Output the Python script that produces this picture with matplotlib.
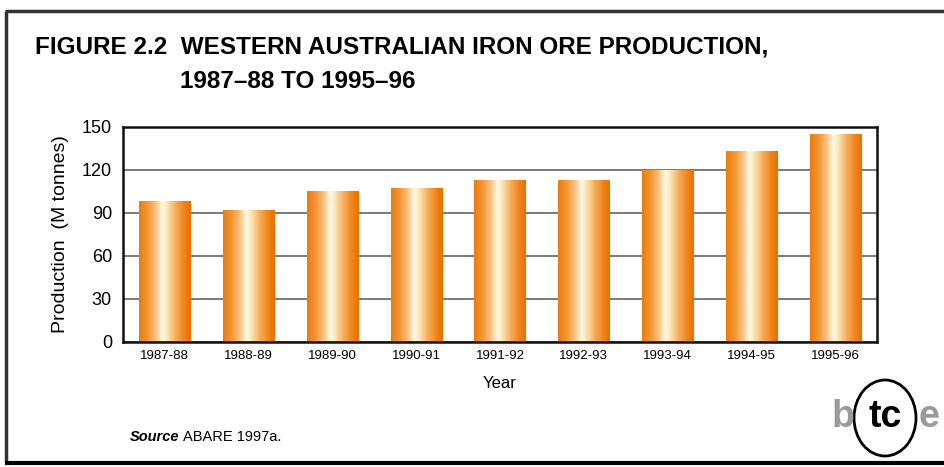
import numpy as np
import matplotlib
matplotlib.use("Agg")
import matplotlib.pyplot as plt
from matplotlib.colors import LinearSegmentedColormap
from matplotlib.patches import Ellipse
from matplotlib import font_manager

years = ["1987-88", "1988-89", "1989-90", "1990-91", "1991-92",
         "1992-93", "1993-94", "1994-95", "1995-96"]
production = [98, 92, 105, 107, 113, 113, 120, 133, 145]
y_ticks = [0, 30, 60, 90, 120, 150]

installed = {f.name for f in font_manager.fontManager.ttflist}
narrow = "Liberation Sans Narrow" if "Liberation Sans Narrow" in installed else "Liberation Sans"
plt.rcParams["font.family"] = [narrow, "DejaVu Sans"]

fig = plt.figure(figsize=(9.45, 4.67), dpi=100)
fig.patch.set_facecolor("white")

# outer frame of the figure panel
frame_kw = dict(transform=fig.transFigure, color="#333333", solid_capstyle="butt")
fig.add_artist(plt.Line2D([5 / 945, 1.0], [1 - 11 / 467] * 2, lw=2.5, **frame_kw))
fig.add_artist(plt.Line2D([6 / 945] * 2, [1 - 11 / 467, 1 - 462 / 467], lw=2.5, **frame_kw))
fig.add_artist(plt.Line2D([5 / 945, 1.0], [1 - 463 / 467] * 2, lw=3.0,
                          transform=fig.transFigure, color="black", solid_capstyle="butt"))

ax = fig.add_axes([123 / 945, 1 - 341.5 / 467, 754 / 945, 214.5 / 467])
x = np.arange(len(years))
bars = ax.bar(x, production, width=0.61, color="#F08A1E", zorder=2, linewidth=0)

# cylindrical orange shading across each bar
shade = LinearSegmentedColormap.from_list(
    "tube", [(0.0, "#EE7A0A"), (0.18, "#F39A3A"), (0.33, "#F9C486"),
             (0.45, "#FFFBEA"), (0.55, "#FBE3B0"), (0.72, "#F6AA55"),
             (0.88, "#EF8318"), (1.0, "#E87000")])
grad = np.linspace(0, 1, 256).reshape(1, -1)
for b in bars:
    x0, w, h = b.get_x(), b.get_width(), b.get_height()
    im = ax.imshow(grad, cmap=shade, aspect="auto", extent=(x0, x0 + w, 0, h),
                   zorder=3, interpolation="bilinear")
    im.set_clip_path(b)

ax.set_xlim(-0.5, len(years) - 0.5)
ax.set_ylim(0, 150)
ax.set_yticks(y_ticks)
ax.set_yticklabels([str(v) for v in y_ticks], fontsize=13)
ax.set_xticks(x)
ax.set_xticklabels(years, fontsize=9.5)
ax.tick_params(length=0, pad=6)
ax.tick_params(axis="y", pad=8)
ax.yaxis.grid(True, color="#7a7a7a", lw=1.4, zorder=1)
ax.set_axisbelow(True)
for s in ax.spines.values():
    s.set_linewidth(1.8)
    s.set_color("#111111")

ax.set_ylabel("Production  (M tonnes)", fontsize=14, labelpad=9)
ax.set_xlabel("Year", fontsize=12, labelpad=10)

fig.text(35 / 945, 1 - 47 / 467,
         "FIGURE 2.2  WESTERN AUSTRALIAN IRON ORE PRODUCTION,",
         fontsize=17.5, fontweight="bold", va="center", ha="left")
fig.text(180 / 945, 1 - 81 / 467, "1987–88 TO 1995–96",
         fontsize=17.5, fontweight="bold", va="center", ha="left")

fig.text(130 / 945, 1 - 437 / 467, "Source", fontsize=10.5, fontweight="bold",
         style="italic", va="center", ha="left")
fig.text(183 / 945, 1 - 437 / 467, "ABARE 1997a.", fontsize=10.5,
         va="center", ha="left")

# btce logo
fig.text(843 / 945, 1 - 417 / 467, "b", fontsize=27, fontweight="bold",
         color="#9a9a9a", va="center", ha="center")
fig.text(929 / 945, 1 - 417 / 467, "e", fontsize=27, fontweight="bold",
         color="#9a9a9a", va="center", ha="center")
fig.text(885 / 945, 1 - 417 / 467, "tc", fontsize=27, fontweight="bold",
         color="black", va="center", ha="center")
fig.add_artist(Ellipse((885 / 945, 1 - 418 / 467), 62 / 945, 76 / 467,
                       transform=fig.transFigure, fill=False, lw=2.0,
                       edgecolor="black"))

fig.savefig("out.png", dpi=100)
